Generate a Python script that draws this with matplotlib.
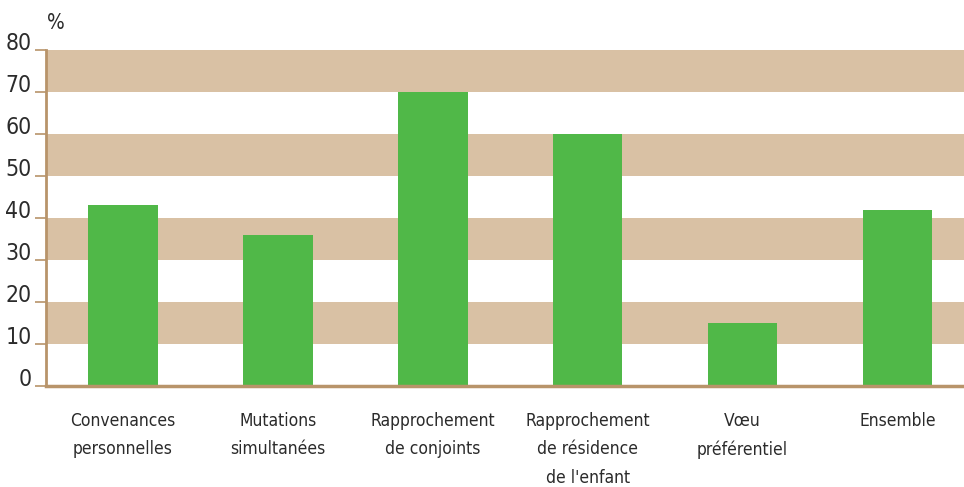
import matplotlib
matplotlib.use("Agg")
import matplotlib.pyplot as plt

# Part des demandes satisfaites selon le motif
categories = [
    "Convenances\npersonnelles",
    "Mutations\nsimultanées",
    "Rapprochement\nde conjoints",
    "Rapprochement\nde résidence\nde l'enfant",
    "Vœu\npréférentiel",
    "Ensemble",
]
values = [43, 36, 70, 60, 15, 42]
y_ticks = [0, 10, 20, 30, 40, 50, 60, 70, 80]
bands = [(10, 20), (30, 40), (50, 60), (70, 80)]

BAR = "#50b848"
BAND = "#d9c1a4"
AXIS = "#b8946a"
TEXT = "#2b2b2b"

plt.rcParams["font.family"] = ["DejaVu Sans"]
plt.rcParams["font.stretch"] = "condensed"

fig = plt.figure(figsize=(9.64, 4.87), dpi=100)
ax = fig.add_axes([45.5 / 964, 101 / 487, 1 - 45.5 / 964, 336 / 487])

for lo, hi in bands:
    ax.axhspan(lo, hi, color=BAND, lw=0, zorder=0)

x = list(range(len(categories)))
ax.bar(x, values, width=0.45, color=BAR, zorder=2)

ax.set_xlim(-0.5, 5.43)
ax.set_ylim(0, 80)
ax.set_yticks(y_ticks)
ax.set_yticklabels([str(t) for t in y_ticks], fontsize=16.5, color=TEXT,
                   va="baseline")
ax.set_xticks(x)
ax.set_xticklabels(categories, fontsize=12.5, color=TEXT, linespacing=1.75,
                   va="top")

ax.tick_params(axis="y", length=8, width=1.2, color=AXIS, pad=2)
ax.tick_params(axis="x", length=0, pad=18.5)

for side in ["top", "right"]:
    ax.spines[side].set_visible(False)
ax.spines["left"].set_color(AXIS)
ax.spines["left"].set_linewidth(2)
ax.spines["bottom"].set_color(AXIS)
ax.spines["bottom"].set_linewidth(2.5)

fig.text(47 / 964, 1 - 23 / 487, "%", fontsize=15, color=TEXT, va="center")

fig.savefig("out.png", dpi=100)
